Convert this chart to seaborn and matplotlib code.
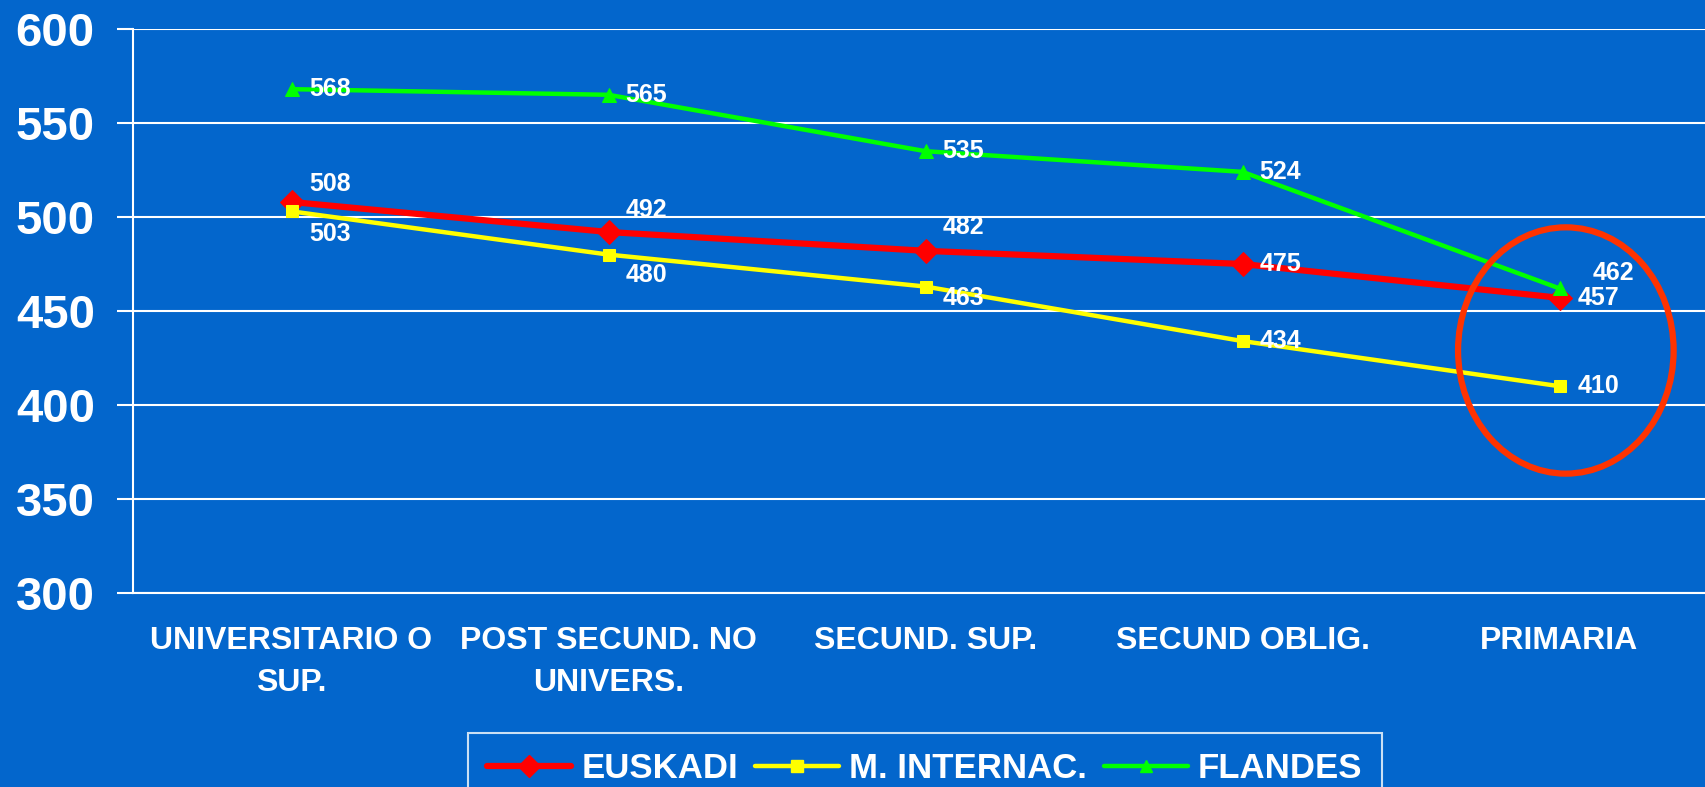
import numpy as np
import pandas as pd
import matplotlib
matplotlib.use("Agg")
import matplotlib.pyplot as plt
from matplotlib.patches import Ellipse
from matplotlib.lines import Line2D
import seaborn as sns

# data
categories = ["UNIVERSITARIO O\nSUP.", "POST SECUND. NO\nUNIVERS.", "SECUND. SUP.",
              "SECUND OBLIG.", "PRIMARIA"]
euskadi = [508, 492, 482, 475, 457]
internac = [503, 480, 463, 434, 410]
flandes = [568, 565, 535, 524, 462]
series_names = ["EUSKADI", "M. INTERNAC.", "FLANDES"]
y_ticks = [300, 350, 400, 450, 500, 550, 600]

BG = "#0366CC"
WHITE = "white"

sns.set_style("white", {"axes.facecolor": BG, "figure.facecolor": BG})
plt.rcParams["font.family"] = ["Liberation Sans", "DejaVu Sans"]
plt.rcParams["font.weight"] = "bold"

pos = np.arange(len(categories))
df = pd.DataFrame({
    "pos": np.tile(pos, 3),
    "value": euskadi + internac + flandes,
    "serie": np.repeat(series_names, len(categories)),
})

styles = {
    "EUSKADI": dict(color="#FF0000", marker="D", ms=12, lw=4.5),
    "M. INTERNAC.": dict(color="#FFFF00", marker="s", ms=9, lw=3.2),
    "FLANDES": dict(color="#00FF00", marker="^", ms=10, lw=3.2),
}
# label offsets (points) for each value label
offsets = {
    "EUSKADI": [(13, 13), (12, 16), (12, 17), (12, 0), (13, 0)],
    "M. INTERNAC.": [(13, -16), (12, -15), (12, -8), (12, 0), (13, 0)],
    "FLANDES": [(13, 0), (12, 0), (12, 0), (12, 0), (24, 11)],
}

fig = plt.figure(figsize=(17.05, 7.87), dpi=100)
ax = fig.add_axes([133 / 1705, 1 - 593 / 787, 1585 / 1705, 564 / 787])
ax.set_facecolor(BG)

for name in series_names:
    st = styles[name]
    sub = df[df["serie"] == name]
    sns.lineplot(data=sub, x="pos", y="value", ax=ax, color=st["color"],
                 marker=st["marker"], markersize=st["ms"], linewidth=st["lw"],
                 markeredgecolor=st["color"], sort=False, legend=False)
    for i, v in enumerate(sub["value"]):
        dx, dy = offsets[name][i]
        ax.annotate(str(v), (pos[i], v), xytext=(dx, dy), textcoords="offset points",
                    ha="left", va="center", color=WHITE, fontsize=18, fontweight="bold")

# highlight circle around PRIMARIA
ax.add_patch(Ellipse((4.02, 429), 0.68, 131, fill=False, edgecolor="#FF3300", lw=4.5, zorder=5))

ax.set_xlim(-0.5, len(categories) - 0.5)
ax.set_ylim(300, 600)
ax.set_yticks(y_ticks)
ax.set_yticklabels([str(t) for t in y_ticks], fontsize=34, fontweight="bold", color=WHITE)
ax.yaxis.grid(True, color=WHITE, lw=1.5)
ax.set_axisbelow(True)

ax.set_xticks(np.arange(-0.5, len(categories)), labels=[""] * (len(categories) + 1))
ax.set_xticks(pos, labels=categories, minor=True)
ax.tick_params(axis="x", which="major", length=10, width=1.5, color=WHITE, direction="out")
ax.tick_params(axis="x", which="minor", length=0, pad=24, labelsize=23, labelcolor=WHITE)
for lbl in ax.get_xticklabels(minor=True):
    lbl.set_fontweight("bold")
    lbl.set_linespacing(1.5)
ax.tick_params(axis="y", length=11.5, width=1.5, color=WHITE, pad=16, left=True)
ax.set_xlabel("")
ax.set_ylabel("")

for s in ["top", "right"]:
    ax.spines[s].set_visible(False)
for s in ["left", "bottom"]:
    ax.spines[s].set_color(WHITE)
    ax.spines[s].set_linewidth(1.5)

handles = [Line2D([], [], color=styles[n]["color"], marker=styles[n]["marker"],
                  markersize=styles[n]["ms"] * 0.9, lw=styles[n]["lw"]) for n in series_names]
leg = fig.legend(handles, series_names, loc="upper center", bbox_to_anchor=(925 / 1705, 1 - 733 / 787),
                 ncol=3, frameon=True, fancybox=False, facecolor=BG, edgecolor=WHITE,
                 prop={"size": 25, "weight": "bold"}, handlelength=2.4, handletextpad=0.3,
                 columnspacing=0.5, borderpad=0.55, borderaxespad=0)
leg.get_frame().set_linewidth(1.5)
for t in leg.get_texts():
    t.set_color(WHITE)

fig.savefig("out.png", dpi=100, facecolor=BG)
